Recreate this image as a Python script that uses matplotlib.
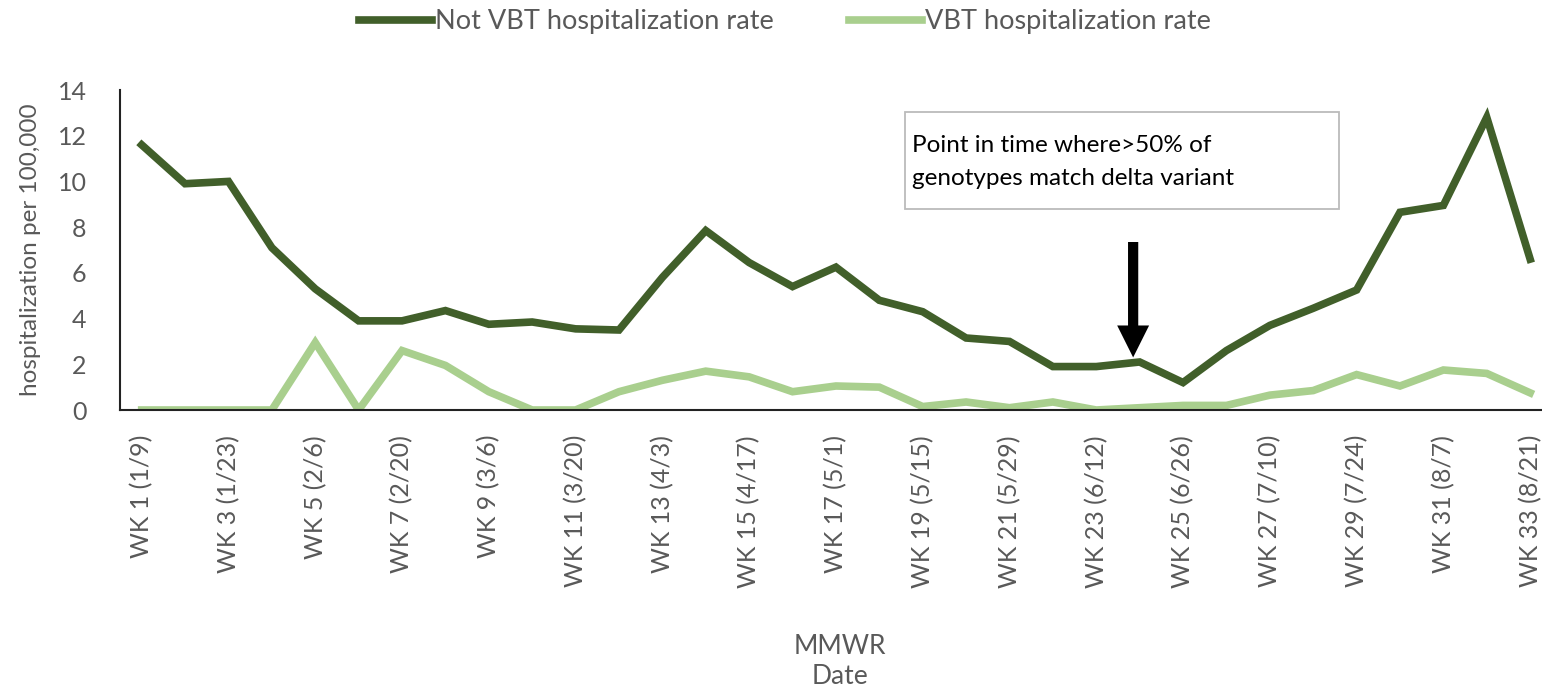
import numpy as np
from matplotlib import pyplot as plt
from matplotlib.patches import Rectangle

plt.rcParams['font.family'] = ['Lato', 'DejaVu Sans']

weeks = np.arange(1, 34)
not_vbt = [11.6, 9.9, 10.0, 7.1, 5.3, 3.9, 3.9, 4.35, 3.75, 3.85, 3.55, 3.5,
           5.8, 7.85, 6.45, 5.4, 6.25, 4.8, 4.3, 3.15, 3.0, 1.9, 1.9, 2.1,
           1.2, 2.6, 3.7, 4.45, 5.25, 8.65, 8.95, 12.8, 6.6]
vbt = [0, 0, 0, 0, 2.95, 0, 2.6, 1.95, 0.8, 0, 0, 0.8,
       1.3, 1.7, 1.45, 0.8, 1.05, 1.0, 0.15, 0.35, 0.1, 0.35, 0, 0.1,
       0.2, 0.2, 0.65, 0.85, 1.55, 1.05, 1.75, 1.6, 0.75]
dates = ['1/9', '1/23', '2/6', '2/20', '3/6', '3/20', '4/3', '4/17', '5/1',
         '5/15', '5/29', '6/12', '6/26', '7/10', '7/24', '8/7', '8/21']
tick_weeks = weeks[::2]
tick_labels = [f'WK {w} ({d})' for w, d in zip(tick_weeks, dates)]

dark = '#415F2A'
light = '#A9CF8E'
gray = '#595959'

fig = plt.figure(figsize=(15.42, 6.97), dpi=100)
ax = fig.add_axes([120 / 1542, 1 - 410 / 697, (1541 - 120) / 1542, 320 / 697])

l1, = ax.plot(weeks, not_vbt, color=dark, lw=5.5, solid_joinstyle='miter',
              label='Not VBT hospitalization rate')
l2, = ax.plot(weeks, vbt, color=light, lw=5.5, solid_joinstyle='miter',
              label='VBT hospitalization rate')

ax.set_xlim(0.5, 33.25)
ax.set_ylim(0, 14)
ax.set_yticks(range(0, 15, 2))
ax.set_xticks(tick_weeks)
ax.set_xticklabels(tick_labels, rotation=90, fontsize=18, color=gray)
ax.tick_params(axis='y', labelsize=18, colors=gray, length=0, pad=24)
ax.tick_params(axis='x', length=0, pad=18)
for s in ['top', 'right']:
    ax.spines[s].set_visible(False)
for s in ['left', 'bottom']:
    ax.spines[s].set_color('#222222')
    ax.spines[s].set_linewidth(1.5)

ax.set_ylabel('hospitalization per 100,000', fontsize=17.5, color=gray, labelpad=12)
fig.text(840 / 1542, 1 - 661 / 697, 'MMWR\nDate', ha='center', va='center',
         fontsize=19, color=gray, linespacing=1.25)

# annotation box and arrow
ax.add_patch(Rectangle((18.6, 8.8), 10.0, 4.25, fc='white', ec='#BBBBBB',
                       lw=1.3, zorder=3))
ax.text(18.75, 10.85, 'Point in time where>50% of\ngenotypes match delta variant',
        fontsize=17.5, color='black', va='center', ha='left', linespacing=1.7,
        zorder=4)
ax.annotate('', xy=(23.85, 2.3), xytext=(23.85, 7.35),
            arrowprops=dict(arrowstyle='simple,head_width=1.0,head_length=1.0,tail_width=0.32',
                            fc='black', ec='none', lw=0, mutation_scale=23,
                            shrinkA=0, shrinkB=0))

fig.legend(handles=[l1, l2], loc='center', bbox_to_anchor=(785 / 1542, 1 - 22 / 697),
           ncol=2, frameon=False, fontsize=19.5, labelcolor=gray,
           handlelength=2.7, handletextpad=0.1, columnspacing=2.8)

fig.savefig('out.png', dpi=100)
